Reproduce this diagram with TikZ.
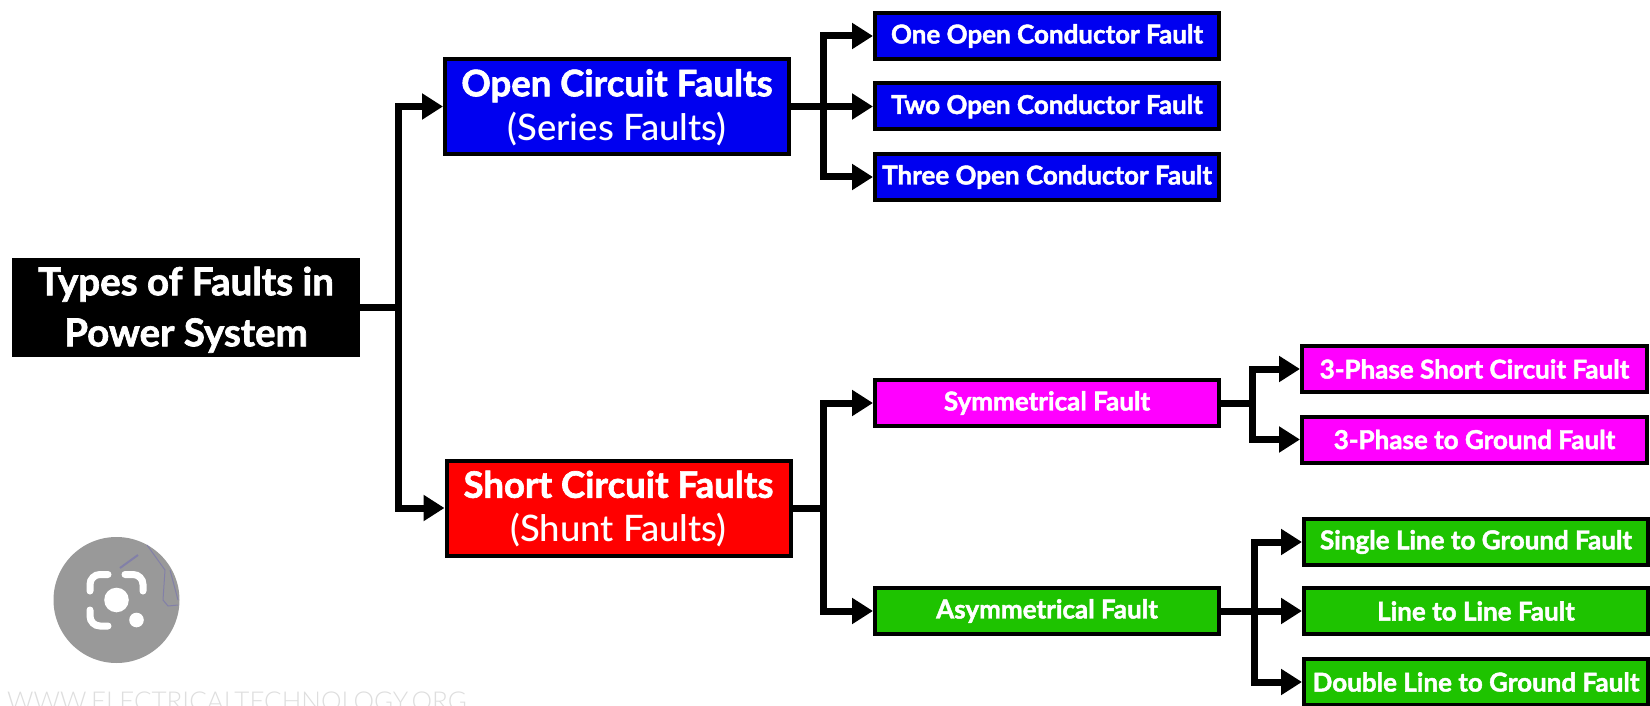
\documentclass[tikz,border=0pt]{standalone}
\usepackage{fontspec}
\setmainfont{Lato}[BoldFont={Lato Bold},BoldFeatures={FakeBold=1.7}]
\newfontfamily\medfont{Lato Medium}
\newfontfamily\markfont{Lato Light}
\usetikzlibrary{arrows.meta}
\definecolor{fblue}{RGB}{0,0,240}
\definecolor{fred}{RGB}{255,0,0}
\definecolor{fmag}{RGB}{255,0,255}
\definecolor{fgreen}{RGB}{30,195,0}
\definecolor{iconGray}{RGB}{153,153,153}
\definecolor{iconLine}{RGB}{125,122,172}
\definecolor{markGray}{RGB}{222,222,222}
\tikzset{
  x=1pt,y=-1pt,
  fbox/.style={draw=black,line width=4pt,text=white,align=center,inner sep=0pt,font=\bfseries},
  rootbox/.style={fbox,fill=black,minimum width=344pt,minimum height=95pt,font=\fontsize{38.5}{51}\bfseries\selectfont},
  mainbox/.style={fbox,minimum width=344pt,minimum height=95pt,font=\fontsize{36.5}{44}\bfseries\selectfont},
  leafbox/.style={fbox,minimum width=344pt,minimum height=46pt,font=\fontsize{26}{30}\bfseries\selectfont},
  conn/.style={draw=black,line width=7pt,-{Triangle[length=21pt,width=25pt]},line join=miter},
  lens/.style={draw=white,line width=7pt,line cap=round,rounded corners=10pt},
  scribble/.style={draw=iconLine,line width=1pt,opacity=.8},
}
\begin{document}
\begin{tikzpicture}
\useasboundingbox (0,0) rectangle (1650,706);
\clip (0,0) rectangle (1650,706);
\fill[white] (0,0) rectangle (1650,706);

% nodes
\node[rootbox] (root) at (186,307.5) {\rule{0pt}{33pt}Types of Faults in\\Power System};
\node[mainbox,fill=fblue] (open) at (617,106.5) {\rule{0pt}{29pt}Open Circuit Faults\\{\medfont\mdseries (Series Faults)}};
\node[mainbox,fill=fred] (short) at (618.5,508) {\rule{0pt}{29pt}Short Circuit Faults\\{\medfont\mdseries (Shunt Faults)}};

\node[leafbox,fill=fblue] (one) at (1047,36) {One Open Conductor Fault};
\node[leafbox,fill=fblue] (two) at (1047,106.5) {Two Open Conductor Fault};
\node[leafbox,fill=fblue] (three) at (1047,177) {Three Open Conductor Fault};

\node[leafbox,fill=fmag] (sym) at (1047,403) {Symmetrical Fault};
\node[leafbox,fill=fgreen] (asym) at (1047,611) {Asymmetrical Fault};

\node[leafbox,fill=fmag,minimum width=345pt] (p3s) at (1474.5,369) {3-Phase Short Circuit Fault};
\node[leafbox,fill=fmag,minimum width=345pt] (p3g) at (1474.5,439.5) {3-Phase to Ground Fault};

\node[leafbox,fill=fgreen,minimum width=344pt] (slg) at (1476,542) {Single Line to Ground Fault};
\node[leafbox,fill=fgreen,minimum width=344pt] (ll) at (1476,611) {Line to Line Fault};
\node[leafbox,fill=fgreen,minimum width=344pt] (dlg) at (1476,682) {Double Line to Ground Fault};

% trunks
\coordinate (t0) at (398,300);
\coordinate (t1) at (823,100);
\coordinate (t2) at (823,500);
\coordinate (t3) at (1252,400);
\coordinate (t4) at (1254,600);

% connectors
\draw[conn] (root.east) -- (t0 |- root.east) |- (open.west);
\draw[conn] (root.east) -- (t0 |- root.east) |- (short.west);
\draw[conn] (open.east) -- (t1 |- open.east) |- (one.west);
\draw[conn] (open.east) -- (two.west);
\draw[conn] (open.east) -- (t1 |- open.east) |- (three.west);
\draw[conn] (short.east) -- (t2 |- short.east) |- (sym.west);
\draw[conn] (short.east) -- (t2 |- short.east) |- (asym.west);
\draw[conn] (sym.east) -- (t3 |- sym.east) |- (p3s.west);
\draw[conn] (sym.east) -- (t3 |- sym.east) |- (p3g.west);
\draw[conn] (asym.east) -- (t4 |- asym.east) |- (slg.west);
\draw[conn] (asym.east) -- (ll.west);
\draw[conn] (asym.east) -- (t4 |- asym.east) |- (dlg.west);

% lens badge
\fill[iconGray] (116.5,600) circle (63);
\fill[white] (116.5,600) circle (12.3);
\fill[white] (136.5,620) circle (7.3);
\draw[lens] (90,591) -- (90,574.5) -- (108,574.5);
\draw[lens] (125,574.5) -- (143,574.5) -- (143,591);
\draw[lens] (90,610) -- (90,626) -- (108,626);
\draw[scribble,line width=2pt] (120,568) -- (138,555);
\draw[scribble] (147,545) -- (165,570) -- (163,600) -- (168,606) -- (178,605);
\draw[scribble] (170,570) -- (178,600);

% watermark
\node[anchor=base west,inner sep=0pt,text=markGray,font=\fontsize{26}{30}\markfont\selectfont] (mark) at (7,710) {WWW.ELECTRICALTECHNOLOGY.ORG};
\end{tikzpicture}
\end{document}
